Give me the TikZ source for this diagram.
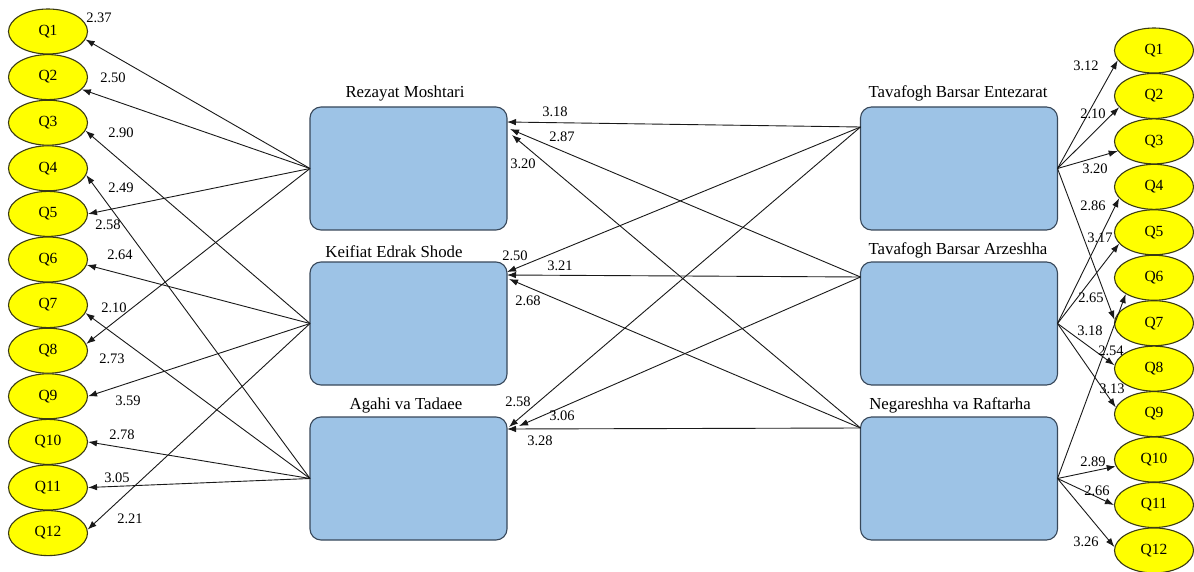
\documentclass[tikz,border=0pt]{standalone}
\usepackage{fontspec}
\setmainfont{Liberation Serif}
\newfontfamily\tnr{Liberation Serif}
\usetikzlibrary{arrows.meta,shapes.geometric}
\definecolor{boxfill}{HTML}{9DC3E6}
\definecolor{boxline}{HTML}{38485A}
\definecolor{qfill}{HTML}{FFFF00}
\definecolor{qline}{HTML}{3A3A14}
\begin{document}
\begin{tikzpicture}[x=1pt,y=-1pt,
  qnode/.style={ellipse, draw=qline, fill=qfill, line width=1.1pt, minimum width=79pt, minimum height=45pt, inner sep=0pt, font=\tnr\fontsize{15.5}{16}\selectfont},
  cbox/.style={draw=boxline, fill=boxfill, line width=1.1pt, rounded corners=11pt, minimum width=197pt, minimum height=123pt, inner sep=0pt, outer sep=0pt},
  btitle/.style={font=\tnr\fontsize{16.8}{18}\selectfont, inner sep=0pt},
  val/.style={font=\tnr\fontsize{14.5}{15}\selectfont, inner sep=0pt},
  arr/.style={-{Latex[length=9pt,width=6.5pt]}, line width=0.9pt, draw=black!90}
]
\useasboundingbox (0,0) rectangle (1194,572);
\fill[white] (0,0) rectangle (1194,572);

% ellipses
\foreach \i in {1,...,12} {
  \node[qnode] (L\i) at (48,{31.5+(\i-1)*45.6}) {Q\i};
  \node[qnode] (R\i) at (1154,{50.5+(\i-1)*45.45}) {Q\i};
}

% boxes
\node[cbox] (Rez) at (408.5,168.5) {};
\node[cbox] (Kei) at (408.5,323.5) {};
\node[cbox] (Aga) at (408.5,478.5) {};
\node[cbox] (Ent) at (959,168.5) {};
\node[cbox] (Arz) at (959,323.5) {};
\node[cbox] (Neg) at (959,478.5) {};

% titles
\node[btitle] (tRez) at (405,93) {Rezayat Moshtari};
\node[btitle] (tKei) at (394,252) {Keifiat Edrak Shode};
\node[btitle] (tAga) at (406,405) {Agahi va Tadaee};
\node[btitle] (tEnt) at (958,93) {Tavafogh Barsar Entezarat};
\node[btitle] (tArz) at (958,250) {Tavafogh Barsar Arzeshha};
\node[btitle] (tNeg) at (950,405) {Negareshha va Raftarha};

% left connectors
\draw[arr] (Rez.west) -- (L1.-12);
\draw[arr] (Rez.west) -- (L2.-20);
\draw[arr] (Rez.west) -- (L5.east);
\draw[arr] (Rez.west) -- (L8.10);
\draw[arr] (Kei.west) -- (L3.-12);
\draw[arr] (Kei.west) -- (L6.-8);
\draw[arr] (Kei.west) -- (L9.east);
\draw[arr] (Kei.west) -- (L12.5);
\draw[arr] (Aga.west) -- (L4.-10);
\draw[arr] (Aga.west) -- (L7.-12);
\draw[arr] (Aga.west) -- (L10.east);
\draw[arr] (Aga.west) -- (L11.east);

% middle connectors
\coordinate (sEnt) at ([yshift=-20pt]Ent.north west);
\coordinate (sArz) at ([yshift=-15pt]Arz.north west);
\coordinate (sNeg) at ([yshift=-11pt]Neg.north west);
\coordinate (tR1) at ([yshift=-15pt]Rez.north east);
\coordinate (tR2) at ([xshift=3pt,yshift=-22pt]Rez.north east);
\coordinate (tR3) at ([xshift=5pt,yshift=-28pt]Rez.north east);
\coordinate (tK1) at ([yshift=-10pt]Kei.north east);
\coordinate (tK2) at ([yshift=-13pt]Kei.north east);
\coordinate (tK3) at ([xshift=2pt,yshift=-17pt]Kei.north east);
\coordinate (tA1) at ([xshift=2pt,yshift=-10pt]Aga.north east);
\coordinate (tA2) at ([xshift=12pt,yshift=-9pt]Aga.north east);
\coordinate (tA3) at ([yshift=-12pt]Aga.north east);
\draw[arr] (sEnt) -- (tR1);
\draw[arr] (sArz) -- (tR2);
\draw[arr] (sNeg) -- (tR3);
\draw[arr] (sEnt) -- (tK1);
\draw[arr] (sArz) -- (tK2);
\draw[arr] (sNeg) -- (tK3);
\draw[arr] (sEnt) -- (tA1);
\draw[arr] (sArz) -- (tA2);
\draw[arr] (sNeg) -- (tA3);

% right connectors
\draw[arr] (Ent.east) -- (R1.195);
\draw[arr] (Ent.east) -- (R2.198);
\draw[arr] (Ent.east) -- (R3.195);
\draw[arr] (Ent.east) -- (R7.175);
\draw[arr] (Arz.east) -- (R4.198);
\draw[arr] (Arz.east) -- (R5.198);
\draw[arr] (Arz.east) -- (R8.175);
\draw[arr] (Arz.east) -- (R9.170);
\draw[arr] (Neg.east) -- (R6.210);
\draw[arr] (Neg.east) -- (R10.190);
\draw[arr] (Neg.east) -- (R11.180);
\draw[arr] (Neg.east) -- (R12.175);

% values left
\node[val] (v1) at (99,18) {2.37};
\node[val] (v2) at (113,78) {2.50};
\node[val] (v3) at (121,133) {2.90};
\node[val] (v4) at (121,188) {2.49};
\node[val] (v5) at (108,225) {2.58};
\node[val] (v6) at (120,255) {2.64};
\node[val] (v7) at (114,308) {2.10};
\node[val] (v8) at (112,359) {2.73};
\node[val] (v9) at (128,401) {3.59};
\node[val] (v10) at (122,435) {2.78};
\node[val] (v11) at (117,478) {3.05};
\node[val] (v12) at (130,519) {2.21};

% values middle
\node[val] (m1) at (555,112) {3.18};
\node[val] (m2) at (562,137) {2.87};
\node[val] (m3) at (523,164) {3.20};
\node[val] (m4) at (515,256) {2.50};
\node[val] (m5) at (560,266) {3.21};
\node[val] (m6) at (528,301) {2.68};
\node[val] (m7) at (518,402) {2.58};
\node[val] (m8) at (562,416) {3.06};
\node[val] (m9) at (540,441) {3.28};

% values right
\node[val] (r1) at (1086,66) {3.12};
\node[val] (r2) at (1093,114) {2.10};
\node[val] (r3) at (1095,169) {3.20};
\node[val] (r4) at (1093,206) {2.86};
\node[val] (r5) at (1100,238) {3.17};
\node[val] (r6) at (1091,298) {2.65};
\node[val] (r7) at (1090,331) {3.18};
\node[val] (r8) at (1111,351) {2.54};
\node[val] (r9) at (1112,389) {3.13};
\node[val] (r10) at (1093,462) {2.89};
\node[val] (r11) at (1097,491) {2.66};
\node[val] (r12) at (1086,542) {3.26};
\end{tikzpicture}
\end{document}
